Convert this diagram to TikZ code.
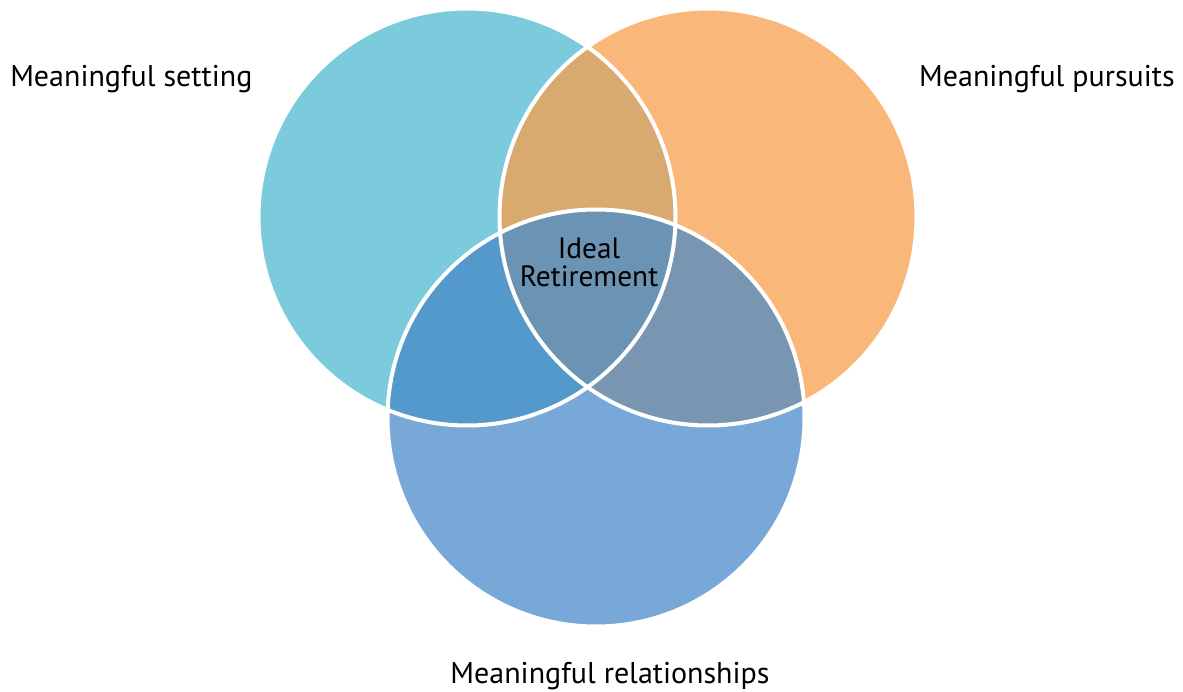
\documentclass[tikz,border=0pt]{standalone}
\usepackage{fontspec}
\setmainfont{PT Sans}
\usepackage{tikz}
\usetikzlibrary{positioning}
\definecolor{setting}{HTML}{7BCBDD}
\definecolor{pursuits}{HTML}{FAB77A}
\definecolor{relations}{HTML}{78A8D7}
\definecolor{lensSP}{HTML}{D8AA70}
\definecolor{lensSR}{HTML}{5499CC}
\definecolor{lensPR}{HTML}{7896B1}
\definecolor{ideal}{HTML}{6B93B3}

\begin{document}
\begin{tikzpicture}
	[x=0.75pt,y=-0.75pt,every node/.style={inner sep=0pt, font=\fontsize{22.5}{27}\selectfont}]
	\tikzstyle{ring} = [draw=white, line width=3pt];
	\useasboundingbox (0,0) rectangle (1183,692);
	
	\coordinate (s) at (467,217);
	\coordinate (p) at (708,217);
	\coordinate (r) at (596,418);
	\fill[setting] (s) circle[radius=208.5];
	\fill[pursuits] (p) circle[radius=208.5];
	\fill[relations] (r) circle[radius=208.5];
	% overlaps
	\begin{scope}
		\clip (s) circle[radius=208.5];
		\fill[lensSP] (p) circle[radius=208.5];
		\fill[lensSR] (r) circle[radius=208.5];
	\end{scope}
	\begin{scope}
		\clip (p) circle[radius=208.5];
		\fill[lensPR] (r) circle[radius=208.5];
		\clip (s) circle[radius=208.5];
		\fill[ideal] (r) circle[radius=208.5];
	\end{scope}
	\draw[ring] (s) circle[radius=208.5];
	\draw[ring] (p) circle[radius=208.5];
	\draw[ring] (r) circle[radius=208.5];
	
	\node[anchor=base west] (t1) at (10,87) {Meaningful setting};
	\node[anchor=base east] (t2) at (1175,87) {Meaningful pursuits};
	\node[anchor=base] (t3) at (610,683) {Meaningful relationships};
	\node[align=center, font=\fontsize{22}{21}\selectfont] (t4) at (589,262) {Ideal\\Retirement};
\end{tikzpicture}
\end{document}
